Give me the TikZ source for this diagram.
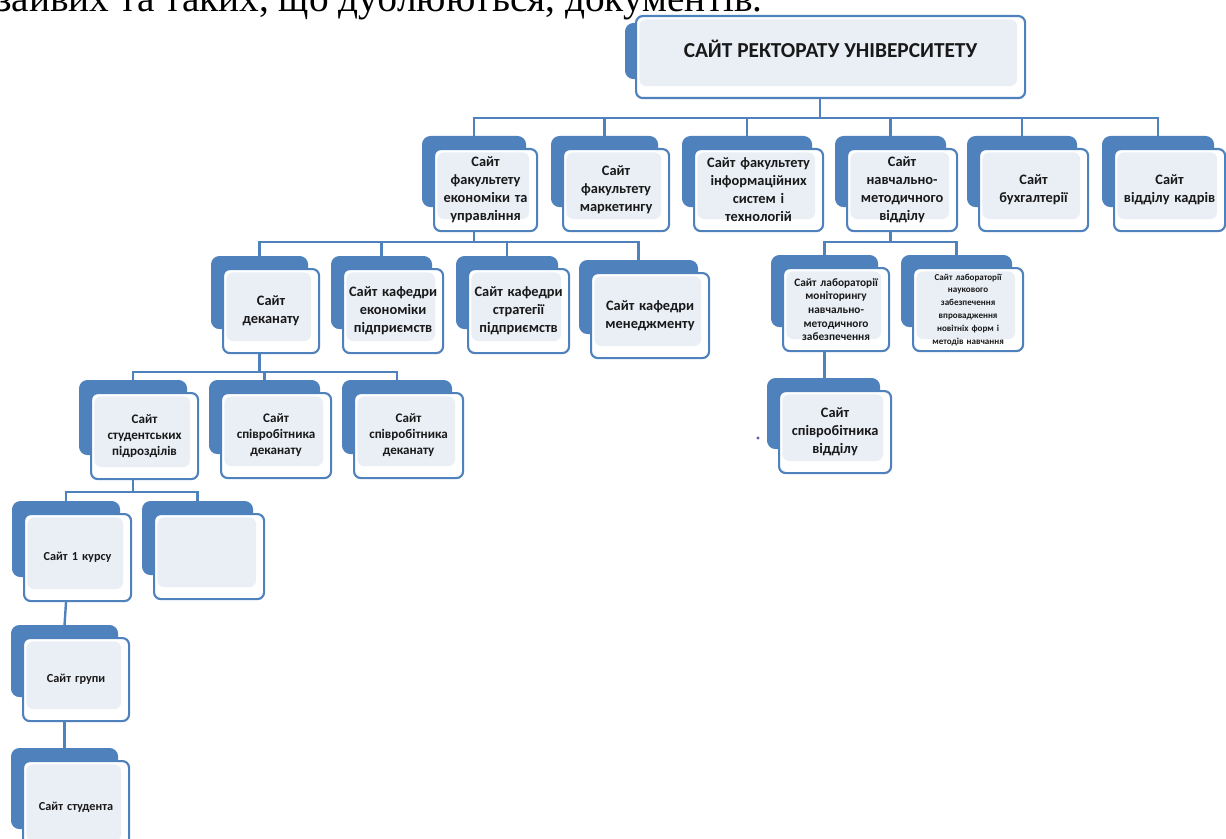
\documentclass[tikz,border=0pt]{standalone}
\usepackage{fontspec}
\setmainfont{Carlito}
\newfontfamily\docfont{Liberation Serif}
\definecolor{boxblue}{RGB}{79,129,189}
\definecolor{boxpale}{RGB}{234,239,246}
\definecolor{inkdark}{RGB}{25,25,25}
\begin{document}
\begin{tikzpicture}[x=0.75pt,y=-0.75pt,
    backbox/.style={fill=boxblue,draw=boxblue,line width=0.8pt,rounded corners=6pt,anchor=north west,inner sep=0pt},
    frontbox/.style={draw=boxblue,line width=1.6pt,rounded corners=5pt,fill=white,anchor=north west,
        align=center,inner sep=2pt,text=inkdark,
        path picture={\fill[boxpale] ([xshift=2.5pt,yshift=-2.5pt]path picture bounding box.north west)
            rectangle ([xshift=-6pt,yshift=9pt]path picture bounding box.south east);}},
    link/.style={draw=boxblue,line width=1.8pt,line cap=rect},
    txtroot/.style={font=\fontsize{16}{18}\selectfont\bfseries},
    txtmain/.style={font=\fontsize{10.8}{13.5}\selectfont\bfseries},
    txtsub/.style={font=\fontsize{9.8}{12}\selectfont\bfseries},
    txtlab/.style={font=\fontsize{8.5}{10.3}\selectfont\bfseries},
    txtmini/.style={font=\fontsize{6.8}{9.6}\selectfont\bfseries},
    txtlow/.style={font=\fontsize{9.2}{10}\selectfont\bfseries}]
    \fill[white] (0,0) rectangle (1226,838);
    \useasboundingbox (0,0) rectangle (1226,838);
    \clip (0,0) rectangle (1226,838);

    \node[anchor=base west,inner sep=0pt,font=\docfont\fontsize{29.5}{32}\selectfont] (toptext) at (-4,12)
        {зайвих та таких, що дублюються, документів.};

    \node[backbox,minimum width=291.75pt,minimum height=41.25pt] (root-b) at (625,23) {};
    \node[frontbox,txtroot,minimum width=291.75pt,minimum height=61.5pt] (root) at (635,15)
        {\raisebox{13pt}{САЙТ РЕКТОРАТУ УНІВЕРСИТЕТУ}};

    \foreach \n/\xa/\ya/\xb/\yb/\s/\txt in {
        fe/433/148/536/230/txtmain/{Сайт\\факультету\\економіки та\\управління},
        mk/562/148/668/230/txtmain/{Сайт\\факультету\\маркетингу},
        is/693/148/822/230/txtmain/{Сайт факультету\\інформаційних\\систем і\\технологій},
        nm/846/148/956/230/txtmain/{Сайт\\навчально-\\методичного\\відділу},
        bh/978/148/1087/230/txtmain/{Сайт\\бухгалтерії},
        vk/1113/148/1224/230/txtmain/{Сайт\\відділу кадрів},
        dk/222/268/318/352/txtmain/{Сайт\\деканату},
        ke/342/268/442/352/txtmain/{Сайт кафедри\\економіки\\підприємств},
        ks/467/268/568/352/txtmain/{Сайт кафедри\\стратегії\\підприємств},
        mn/590/272/708/357/txtmain/{Сайт кафедри\\менеджменту},
        lm/782/267/888/350/txtlab/{Сайт лабораторії\\моніторингу\\навчально-\\методичного\\забезпечення},
        ln/912/267/1022/350/txtmini/{Сайт лабораторії\\наукового\\забезпечення\\впровадження\\новітніх форм і\\методів навчання},
        su/90/392/197/478/txtsub/{Сайт\\студентських\\підрозділів},
        sa/220/392/330/477/txtsub/{Сайт\\співробітника\\деканату},
        sb/353/392/462/477/txtsub/{Сайт\\співробітника\\деканату},
        sv/778/390/890/472/txtmain/{Сайт\\співробітника\\відділу},
        k1/23/513/130/600/txtlow/{Сайт 1 курсу},
        em/153/513/263/598/txtlow/{},
        gr/22/637/128/720/txtlow/{Сайт групи},
        st/22/760/128/852/txtlow/{Сайт студента}} {
        \node[backbox,minimum width={(\xb-\xa)*0.75pt},minimum height={(\yb-\ya-12)*0.75pt}]
            (\n-b) at (\xa-11,\ya-12) {};
        \node[frontbox,\s,minimum width={(\xb-\xa)*0.75pt},minimum height={(\yb-\ya)*0.75pt},
            text width={(\xb-\xa)*0.75pt-7pt}] (\n) at (\xa,\ya) {\txt};
    }

    \coordinate (bar1) at (0,118);
    \coordinate (bar2) at (0,242);
    \coordinate (bar3) at (0,372);
    \coordinate (bar4) at (0,492);

    \draw[link] (root-b |- root.south) -- (root-b |- bar1);
    \draw[link] (fe-b |- bar1) -- (vk-b |- bar1);
    \foreach \c in {fe,mk,is,nm,bh,vk}
        \draw[link] (\c-b |- bar1) -- (\c-b.north);

    \draw[link] (fe-b |- fe.south) -- (fe-b |- bar2);
    \draw[link] (dk-b |- bar2) -- (mn-b |- bar2);
    \foreach \c in {dk,ke,ks,mn}
        \draw[link] (\c-b |- bar2) -- (\c-b.north);

    \draw[link] (nm-b |- nm.south) -- (nm-b |- bar2);
    \draw[link] (lm-b |- bar2) -- (ln-b |- bar2);
    \foreach \c in {lm,ln}
        \draw[link] (\c-b |- bar2) -- (\c-b.north);

    \draw[link] (dk-b |- dk.south) -- (dk-b |- bar3);
    \draw[link] (su-b |- bar3) -- (sb-b |- bar3);
    \foreach \c in {su,sa,sb}
        \draw[link] (\c-b |- bar3) -- (\c-b.north);

    \draw[link] (su-b |- su.south) -- (su-b |- bar4);
    \draw[link] (k1-b |- bar4) -- (em-b |- bar4);
    \foreach \c in {k1,em}
        \draw[link] (\c-b |- bar4) -- (\c-b.north);

    \draw[link] (lm-b |- lm.south) -- (lm-b |- sv-b.north);
    \draw[link] (k1-b |- k1.south) -- (gr-b.north);
    \draw[link] (gr-b |- gr.south) -- (st-b.north);

    \fill[boxblue!70!violet] (758,438) circle (1.2pt);
\end{tikzpicture}
\end{document}
